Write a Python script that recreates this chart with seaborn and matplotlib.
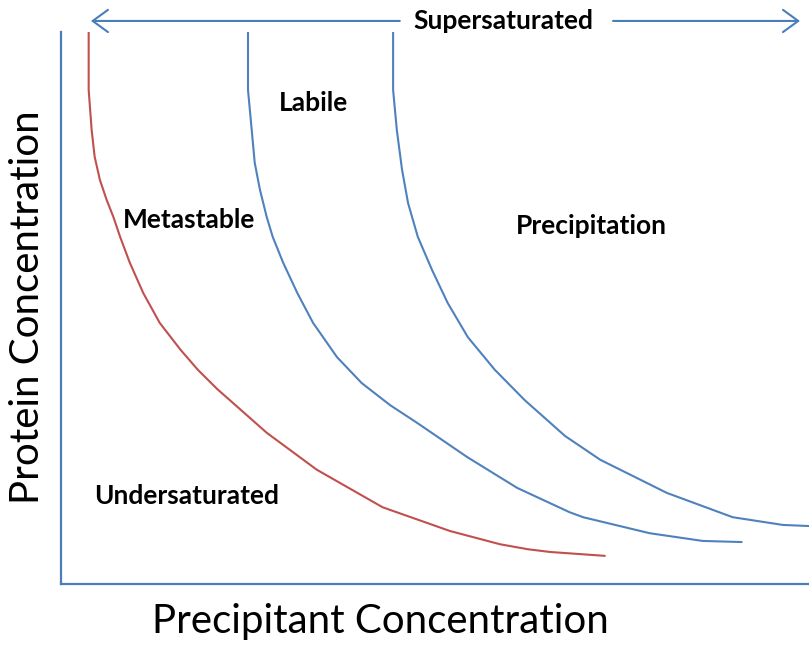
import matplotlib
matplotlib.use("Agg")
import matplotlib.pyplot as plt
import seaborn as sns

# curve readings (precipitant vs protein, 0-100 scale)
red_x = [3.7, 3.7, 4.1, 4.5, 5.2, 6.1, 7.0, 7.9, 9.2, 11.0, 13.2, 16.0, 18.3, 20.9,
         27.5, 34.2, 43.0, 52.0, 58.7, 62.4, 65.4, 72.7]
red_y = [100, 89.5, 82.2, 77.4, 73.2, 69.6, 66.5, 62.9, 58.2, 52.7, 47.3, 42.4, 38.8, 35.3,
         27.4, 20.7, 13.9, 9.6, 7.2, 6.3, 5.8, 5.1]

mid_x = [25.0, 25.0, 25.5, 25.9, 26.6, 27.5, 28.3, 29.7, 31.6, 33.7, 36.9, 40.2, 44.0,
         47.6, 54.3, 61.0, 68.0, 69.8, 78.7, 85.8, 91.0]
mid_y = [100, 89.5, 82.2, 76.3, 71.4, 66.5, 62.9, 58.2, 52.7, 47.3, 41.1, 36.4, 32.4,
         29.2, 23.0, 17.4, 13.0, 12.1, 9.2, 7.8, 7.6]

right_x = [44.4, 44.4, 44.9, 45.6, 46.4, 47.7, 49.6, 51.7, 54.4, 58.0, 62.0, 67.4,
           72.1, 81.0, 89.8, 96.5, 100]
right_y = [100, 89.5, 82.2, 75.0, 69.0, 62.9, 56.9, 50.9, 44.7, 38.8, 33.3, 26.8,
           22.5, 16.5, 12.1, 10.7, 10.5]

regions = ["Labile", "Metastable", "Precipitation", "Undersaturated"]
region_x = [29.1, 8.3, 60.8, 4.4]
region_y = [87.1, 65.9, 64.9, 15.9]

sns.set_style("white")
plt.rcParams["font.family"] = ["Lato", "DejaVu Sans"]
plt.rcParams["text.color"] = "black"

blue = "#4f81bd"
red = "#c0504d"

fig = plt.figure(figsize=(8.09, 6.45), dpi=100)
ax = fig.add_axes([61 / 809, 61 / 645, 748 / 809, 552 / 645])

for xs, ys, c in [(red_x, red_y, red), (mid_x, mid_y, blue), (right_x, right_y, blue)]:
    sns.lineplot(x=xs, y=ys, sort=False, estimator=None, color=c, linewidth=1.5, ax=ax)

ax.set_xlim(0, 100)
ax.set_ylim(0, 100)
ax.set_xticks([])
ax.set_yticks([])
for s in ["top", "right"]:
    ax.spines[s].set_visible(False)
for s in ["left", "bottom"]:
    ax.spines[s].set_color("#4a7ebb")
    ax.spines[s].set_linewidth(1.6)

for name, x, y in zip(regions, region_x, region_y):
    ax.text(x, y, name, fontsize=19, fontweight="bold", ha="left", va="center")

# supersaturated arrow over the top
arrow = dict(arrowstyle="->,head_length=0.55,head_width=0.4", color="#4a7ebb",
             lw=1.5, mutation_scale=20, shrinkA=0, shrinkB=0)
ax.annotate("", xy=(4.0, 102), xytext=(45.3, 102), arrowprops=arrow, annotation_clip=False)
ax.annotate("", xy=(98.8, 102), xytext=(73.8, 102), arrowprops=arrow, annotation_clip=False)
ax.text(59.1, 102, "Supersaturated", fontsize=19, fontweight="bold",
        ha="center", va="center", clip_on=False)

fig.text(380 / 809, 1 - 622 / 645, "Precipitant Concentration", fontsize=29,
         ha="center", va="center")
fig.text(28 / 809, 1 - 307 / 645, "Protein Concentration", fontsize=29,
         ha="center", va="center", rotation=90)

fig.savefig("out.png", dpi=100)
